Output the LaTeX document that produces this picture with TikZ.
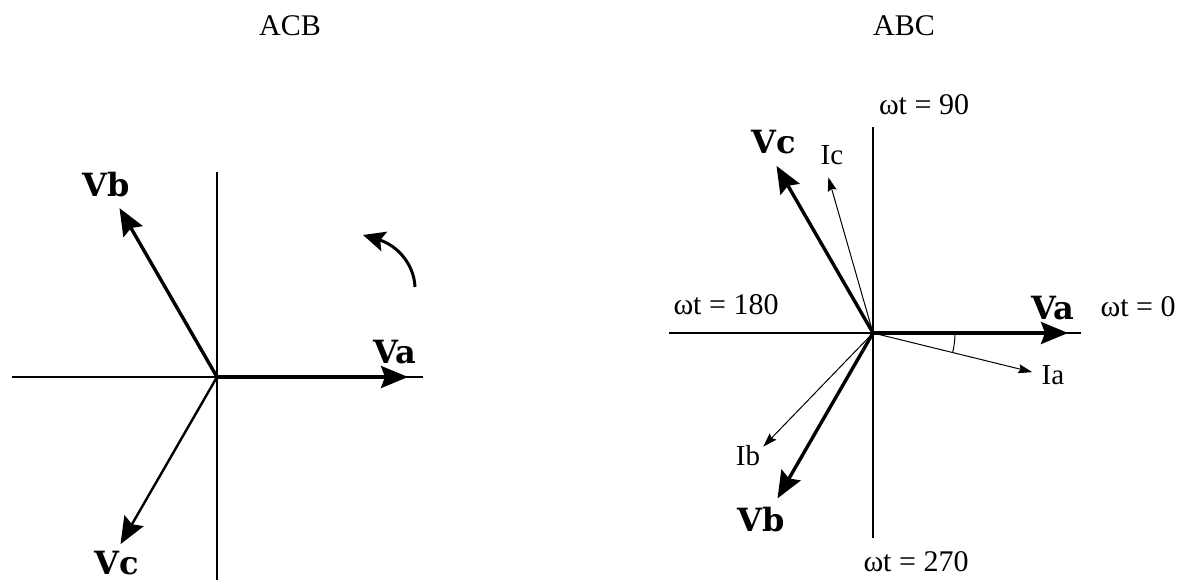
\documentclass[tikz,border=0pt]{standalone}
\usepackage{fontspec}
\setmainfont{Liberation Serif}
\newfontfamily\phfont{DejaVu Serif}
\usepackage{tikz}
\usetikzlibrary{positioning,arrows.meta,calc}
\tikzset{
  % --- axes and phasors ------------------------------------------------------
  axis/.style={black,line width=1.3pt},
  volt/.style={-{Stealth[length=27pt,width=22pt,inset=4pt]},black,line width=3.4pt},
  voltthin/.style={volt,line width=2.4pt},
  cur/.style={-{Stealth[length=14pt,width=9pt,inset=2pt]},black,line width=1pt},
  rot/.style={-{Stealth[length=22pt,width=20pt,inset=4pt]},black,line width=3pt},
  % --- labels ----------------------------------------------------------------
  vlab/.style={font=\phfont\bfseries\fontsize{32}{34}\selectfont,inner sep=0pt},
  ilab/.style={font=\fontsize{29}{31}\selectfont,inner sep=0pt},
  wtlab/.style={font=\fontsize{30}{32}\selectfont,inner sep=0pt},
  title/.style={font=\fontsize{30}{32}\selectfont,inner sep=0pt},
}
\begin{document}
\begin{tikzpicture}[x=1pt, y=1pt]
  \useasboundingbox (0,0) rectangle (1192,585);

  % ACB
  \node[title] (acb) at (290,559) {ACB};
  \coordinate (o1) at (217,208);
  \coordinate (l1) at (12,208);
  \coordinate (r1) at (423,208);
  \coordinate (t1) at (217,413);
  \coordinate (b1) at (217,5);
  \coordinate (va1) at (408,208);
  \coordinate (vb1) at ($(o1)+(120:195)$);
  \coordinate (vc1) at ($(o1)+(240:193)$);
  \draw[axis] (l1) -- (r1);
  \draw[axis] (t1) -- (b1);
  \draw[volt] (o1) -- (va1);
  \draw[volt] (o1) -- (vb1);
  \draw[voltthin] (o1) -- (vc1);
  \node[vlab] (lva1) at (395,233) {Va};
  \node[vlab] (lvb1) at (106,400) {Vb};
  \node[vlab] (lvc1) at (117,22) {Vc};
  \coordinate (rs) at (415,298);
  \coordinate (re) at (363,350);
  \draw[rot] (rs) .. controls (414,322) and (396,340) .. (re);

  % ABC
  \node[title] (abc) at (904,559) {ABC};
  \coordinate (o2) at (873,252);
  \coordinate (l2) at (669,252);
  \coordinate (r2) at (1081,252);
  \coordinate (t2) at (873,458);
  \coordinate (b2) at (873,47);
  \coordinate (va2) at (1068,252);
  \coordinate (vc2) at ($(o2)+(120:193)$);
  \coordinate (vb2) at ($(o2)+(240:191)$);
  \coordinate (ia2) at ($(o2)+(-13.8:164)$);
  \coordinate (ic2) at ($(o2)+(106:162)$);
  \coordinate (ib2) at ($(o2)+(226:158)$);
  \draw[axis] (l2) -- (r2);
  \draw[axis] (t2) -- (b2);
  \draw[cur] (o2) -- (ia2);
  \draw[cur] (o2) -- (ic2);
  \draw[cur] (o2) -- (ib2);
  \draw[volt] (o2) -- (va2);
  \draw[volt] (o2) -- (vc2);
  \draw[volt] (o2) -- (vb2);
  \draw[line width=1pt] ($(o2)+(82,0)$) arc[start angle=0,end angle=-13.8,radius=82];
  \node[vlab] (lva2) at (1053,277) {Va};
  \node[vlab] (lvc2) at (774,443) {Vc};
  \node[vlab] (lvb2) at (761,65) {Vb};
  \node[ilab] (lia2) at (1053,210) {Ia};
  \node[ilab] (lic2) at (832,430) {Ic};
  \node[ilab] (lib2) at (748,129) {Ib};
  \node[wtlab] (w0) at (1138,278) {ωt = 0};
  \node[wtlab] (w90) at (924,480) {ωt = 90};
  \node[wtlab] (w180) at (726,280) {ωt = 180};
  \node[wtlab] (w270) at (916,23) {ωt = 270};
\end{tikzpicture}
\end{document}
